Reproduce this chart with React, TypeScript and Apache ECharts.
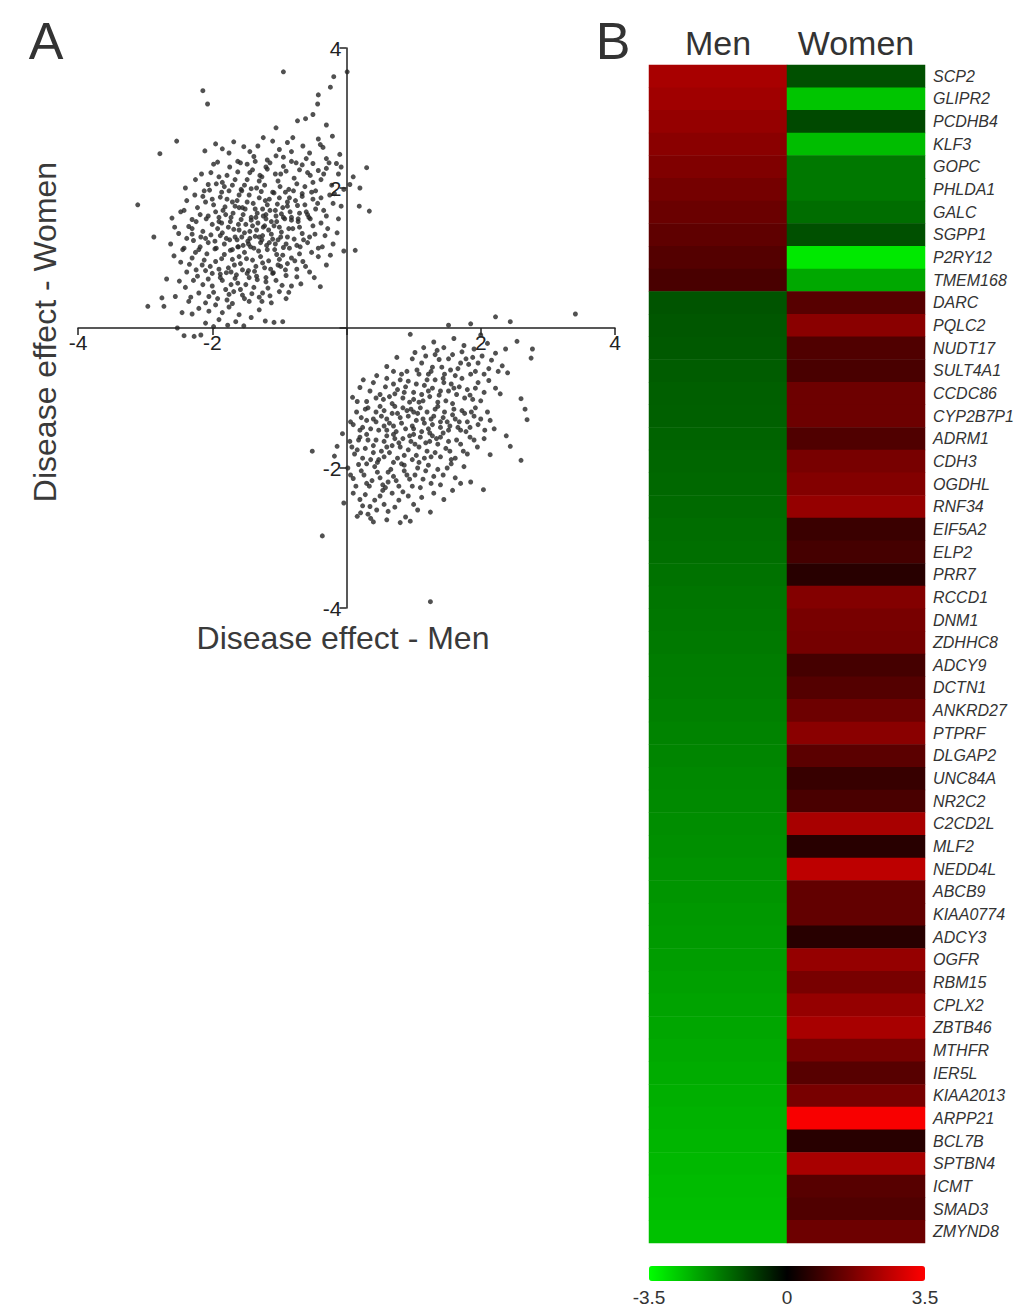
import React, { useEffect, useRef } from 'react';
import * as echarts from 'echarts';

const FONT = 'Liberation Sans, Arial, sans-serif';

const columns = ['Men', 'Women'];

const genes = [
  'SCP2', 'GLIPR2', 'PCDHB4', 'KLF3', 'GOPC', 'PHLDA1', 'GALC', 'SGPP1', 'P2RY12', 'TMEM168',
  'DARC', 'PQLC2', 'NUDT17', 'SULT4A1', 'CCDC86', 'CYP2B7P1', 'ADRM1', 'CDH3', 'OGDHL', 'RNF34',
  'EIF5A2', 'ELP2', 'PRR7', 'RCCD1', 'DNM1', 'ZDHHC8', 'ADCY9', 'DCTN1', 'ANKRD27', 'PTPRF',
  'DLGAP2', 'UNC84A', 'NR2C2', 'C2CD2L', 'MLF2', 'NEDD4L', 'ABCB9', 'KIAA0774', 'ADCY3', 'OGFR',
  'RBM15', 'CPLX2', 'ZBTB46', 'MTHFR', 'IER5L', 'KIAA2013', 'ARPP21', 'BCL7B', 'SPTBN4', 'ICMT',
  'SMAD3', 'ZMYND8',
];

const menValues = [
  2.3, 2.2, 2.05, 1.9, 1.75, 1.6, 1.45, 1.3, 1.15, 1.0,
  -1.15, -1.2, -1.22, -1.26, -1.3, -1.32, -1.36, -1.4, -1.43, -1.46,
  -1.5, -1.52, -1.56, -1.6, -1.63, -1.66, -1.7, -1.72, -1.76, -1.8,
  -1.83, -1.86, -1.9, -1.93, -1.96, -2.0, -2.04, -2.08, -2.12, -2.16,
  -2.2, -2.24, -2.28, -2.32, -2.36, -2.4, -2.44, -2.48, -2.52, -2.56,
  -2.6, -2.65,
];

const womenValues = [
  -1.1, -2.7, -1.0, -2.6, -1.65, -1.65, -1.5, -1.1, -3.2, -2.3,
  1.2, 1.9, 1.1, 1.0, 1.5, 1.5, 1.1, 1.65, 1.8, 2.05,
  0.8, 0.95, 0.55, 1.8, 1.65, 1.6, 0.95, 1.15, 1.5, 1.9,
  1.25, 0.75, 1.0, 2.3, 0.55, 2.6, 1.35, 1.35, 0.55, 2.05,
  1.65, 2.05, 2.3, 1.65, 1.2, 1.65, 3.4, 0.55, 2.3, 1.2,
  1.1, 1.5,
];

const upMenDownWomen = [
  [-2.42, -0.11], [-2.27, -0.12], [-2.17, -0.1], [-2.52, 0.0], [-1.98, 0.02], [-1.77, 0.04], [-1.53, 0.03], [-2.1, 0.07],
  [-1.9, 0.12], [-1.65, 0.09], [-1.21, 0.1], [-1.08, 0.08], [-0.95, 0.09], [-2.96, 0.31], [-2.72, 0.31], [-2.3, 0.2],
  [-2.05, 0.24], [-1.85, 0.22], [-1.6, 0.19], [-1.42, 0.15], [-1.3, 0.26], [-2.2, 0.28], [-1.75, 0.3], [-2.45, 0.22],
  [-2.75, 0.43], [-2.68, 0.7], [-2.49, 0.67], [-2.55, 0.45], [-2.35, 0.38], [-2.2, 0.5], [-2.1, 0.36], [-2.0, 0.6],
  [-1.92, 0.42], [-1.8, 0.55], [-1.7, 0.35], [-1.62, 0.64], [-1.55, 0.47], [-1.45, 0.38], [-1.38, 0.58], [-1.3, 0.44],
  [-1.2, 0.66], [-1.12, 0.36], [-1.0, 0.52], [-0.9, 0.42], [-0.39, 0.59], [-2.4, 0.58], [-2.28, 0.68], [-2.05, 0.45],
  [-1.85, 0.68], [-1.75, 0.48], [-1.5, 0.62], [-1.25, 0.5], [-1.05, 0.68], [-0.82, 0.6], [-1.95, 0.33], [-1.68, 0.52],
  [-2.47, 0.94], [-2.57, 1.03], [-2.38, 0.8], [-2.3, 1.0], [-2.22, 0.74], [-2.15, 0.9], [-2.08, 1.06], [-2.0, 0.78],
  [-1.95, 0.95], [-1.88, 0.72], [-1.82, 1.05], [-1.76, 0.86], [-1.7, 0.98], [-1.64, 0.76], [-1.58, 0.92], [-1.52, 1.08],
  [-1.46, 0.82], [-1.4, 0.97], [-1.34, 0.74], [-1.28, 1.02], [-1.22, 0.86], [-1.16, 0.96], [-1.1, 0.78], [-1.04, 1.05],
  [-0.98, 0.88], [-0.9, 0.75], [-0.82, 1.0], [-0.74, 0.84], [-0.65, 0.95], [-0.55, 0.8], [-0.42, 1.02], [-0.3, 0.9],
  [-2.25, 1.08], [-1.9, 0.84], [-1.6, 1.02], [-1.45, 0.72], [-1.2, 0.72], [-1.0, 0.98], [-0.7, 1.06], [-0.48, 0.72],
  [-2.1, 0.82], [-1.72, 0.8], [-1.35, 0.88], [-0.88, 0.92],
  [-2.87, 1.3], [-2.62, 1.2], [-2.5, 1.35], [-2.42, 1.14], [-2.35, 1.45], [-2.28, 1.25], [-2.2, 1.12], [-2.14, 1.38],
  [-2.06, 1.22], [-2.0, 1.48], [-1.94, 1.14], [-1.88, 1.32], [-1.82, 1.2], [-1.76, 1.44], [-1.7, 1.12], [-1.66, 1.3],
  [-1.6, 1.4], [-1.54, 1.18], [-1.5, 1.48], [-1.44, 1.28], [-1.38, 1.14], [-1.34, 1.4], [-1.28, 1.22], [-1.22, 1.46],
  [-1.18, 1.12], [-1.12, 1.34], [-1.06, 1.2], [-1.0, 1.44], [-0.94, 1.15], [-0.88, 1.3], [-0.8, 1.42], [-0.74, 1.18],
  [-0.66, 1.35], [-0.58, 1.22], [-0.5, 1.46], [-0.42, 1.14], [-0.32, 1.32], [-0.2, 1.2], [-0.04, 1.1], [0.13, 1.11],
  [-2.3, 1.34], [-2.1, 1.28], [-1.92, 1.42], [-1.74, 1.26], [-1.56, 1.3], [-1.4, 1.46], [-1.25, 1.32], [-1.08, 1.46],
  [-0.9, 1.2], [-0.7, 1.44], [-0.55, 1.3], [-1.62, 1.16], [-1.46, 1.2], [-1.3, 1.3], [-1.15, 1.22], [-0.98, 1.3],
  [-3.11, 1.76], [-2.6, 1.57], [-2.47, 1.66], [-2.38, 1.82], [-2.3, 1.55], [-2.22, 1.72], [-2.14, 1.88], [-2.06, 1.6],
  [-1.98, 1.76], [-1.9, 1.52], [-1.84, 1.68], [-1.78, 1.84], [-1.72, 1.58], [-1.66, 1.74], [-1.6, 1.9], [-1.54, 1.62],
  [-1.48, 1.8], [-1.42, 1.54], [-1.36, 1.7], [-1.3, 1.86], [-1.24, 1.6], [-1.18, 1.76], [-1.12, 1.52], [-1.06, 1.68],
  [-1.0, 1.86], [-0.94, 1.58], [-0.88, 1.74], [-0.82, 1.54], [-0.76, 1.82], [-0.7, 1.64], [-0.62, 1.76], [-0.54, 1.56],
  [-0.46, 1.7], [-0.38, 1.86], [-0.3, 1.6], [-0.2, 1.78], [-0.12, 1.56], [0.19, 1.74], [0.34, 1.67], [-2.0, 1.84],
  [-1.8, 1.62], [-1.55, 1.72], [-1.35, 1.58], [-1.15, 1.84], [-0.95, 1.72], [-0.72, 1.52], [-0.5, 1.84], [-1.7, 1.8],
  [-1.25, 1.7], [-1.05, 1.6], [-0.85, 1.86], [-0.6, 1.66],
  [-2.4, 2.0], [-2.25, 2.12], [-2.12, 1.96], [-2.02, 2.22], [-1.94, 2.06], [-1.86, 1.94], [-1.78, 2.18], [-1.7, 2.04],
  [-1.62, 2.23], [-1.56, 1.96], [-1.48, 2.12], [-1.4, 2.26], [-1.34, 2.0], [-1.26, 2.16], [-1.18, 2.27], [-1.1, 1.94],
  [-1.02, 2.1], [-0.94, 2.31], [-0.86, 1.98], [-0.78, 2.14], [-0.7, 2.26], [-0.62, 2.02], [-0.54, 2.18], [-0.46, 1.96],
  [-0.38, 2.12], [-0.3, 2.28], [-0.22, 2.04], [-0.12, 2.2], [-0.04, 1.98], [0.1, 2.16], [0.05, 2.05], [0.2, 2.0],
  [-1.3, 2.1], [-0.98, 2.2], [-0.66, 1.92], [-0.42, 2.25], [-1.85, 2.08], [-0.18, 1.92],
  [-2.53, 2.67], [-2.78, 2.49], [-1.95, 2.63], [-2.11, 2.53], [-1.53, 2.59], [-1.92, 2.37], [-1.62, 2.38], [-1.1, 2.67],
  [-1.32, 2.6], [-0.88, 2.65], [-0.65, 2.6], [-0.42, 2.7], [-0.21, 2.74], [-0.39, 2.62], [-1.38, 2.45], [-1.18, 2.4],
  [-0.94, 2.44], [-0.75, 2.36], [-0.55, 2.5], [-0.3, 2.42], [-0.1, 2.48], [0.3, 2.29], [-1.75, 2.5], [-1.48, 2.34],
  [-0.82, 2.52], [-0.5, 2.35], [-0.15, 2.35], [-1.0, 2.55],
  [-2.14, 3.39], [-2.07, 3.2], [-0.94, 3.66], [-0.19, 3.59], [-0.24, 3.44], [0.01, 3.66], [-0.42, 3.33], [-0.43, 3.2],
  [-0.73, 2.96], [-0.61, 2.99], [-1.05, 2.86], [-0.3, 2.9], [-0.5, 3.05],
  [-2.32, 0.44], [-2.14, 0.62], [-1.98, 0.51], [-1.88, 0.77], [-1.78, 0.4], [-1.66, 0.71], [-1.58, 0.55], [-1.48, 0.78],
  [-1.41, 0.49], [-1.33, 0.69], [-1.26, 0.38], [-1.17, 0.57], [-1.09, 0.79], [-0.96, 0.61], [-0.86, 0.51], [-0.74, 0.73],
  [-2.24, 0.83], [-2.06, 0.7], [-1.72, 0.62], [-1.52, 0.42], [-1.14, 0.46], [-0.68, 0.63],
  [-2.44, 1.12], [-2.34, 0.91], [-2.18, 1.16], [-2.12, 0.97], [-2.03, 0.88], [-1.96, 1.13], [-1.86, 0.99], [-1.79, 0.79],
  [-1.73, 1.11], [-1.67, 0.9], [-1.55, 0.83], [-1.49, 0.99], [-1.43, 1.16], [-1.37, 0.81], [-1.31, 1.1], [-1.25, 0.93],
  [-1.19, 1.18], [-1.13, 0.84], [-1.07, 1.12], [-0.95, 1.04], [-0.91, 0.83], [-0.85, 1.14], [-0.77, 0.96], [-0.69, 1.16],
  [-0.61, 0.88], [-0.52, 1.08], [-0.36, 1.16], [-0.24, 1.04], [-1.61, 1.16], [-1.02, 0.9],
  [-2.56, 1.44], [-2.38, 1.28], [-2.24, 1.52], [-2.17, 1.3], [-2.09, 1.56], [-2.02, 1.33], [-1.96, 1.24], [-1.9, 1.58],
  [-1.85, 1.36], [-1.79, 1.28], [-1.73, 1.52], [-1.68, 1.41], [-1.63, 1.26], [-1.57, 1.55], [-1.52, 1.36], [-1.47, 1.24],
  [-1.42, 1.58], [-1.36, 1.31], [-1.32, 1.5], [-1.26, 1.26], [-1.2, 1.56], [-1.16, 1.4], [-1.1, 1.27], [-1.04, 1.52],
  [-0.97, 1.37], [-0.92, 1.56], [-0.86, 1.42], [-0.78, 1.27], [-0.72, 1.56], [-0.64, 1.26], [-0.56, 1.58], [-0.47, 1.34],
  [-0.38, 1.5], [-0.28, 1.42], [-0.14, 1.36], [-1.86, 1.5], [-1.44, 1.38], [-1.02, 1.26], [-0.82, 1.58], [-1.61, 1.48],
  [-1.24, 1.44], [-2.3, 1.42],
  [-2.42, 1.68], [-2.26, 1.9], [-2.18, 1.62], [-2.1, 1.8], [-2.04, 1.97], [-1.95, 1.66], [-1.88, 1.87], [-1.81, 1.73],
  [-1.75, 1.96], [-1.69, 1.64], [-1.63, 1.82], [-1.57, 1.98], [-1.51, 1.7], [-1.45, 1.9], [-1.39, 1.78], [-1.33, 1.64],
  [-1.27, 1.95], [-1.21, 1.82], [-1.14, 1.68], [-1.08, 1.93], [-1.03, 1.77], [-0.97, 1.63], [-0.91, 1.94], [-0.84, 1.66],
  [-0.79, 1.96], [-0.73, 1.75], [-0.66, 1.88], [-0.58, 1.62], [-0.52, 1.94], [-0.43, 1.78], [-0.34, 1.68], [-0.25, 1.9],
  [-0.08, 1.74], [-1.6, 1.72], [-1.2, 1.62], [-0.88, 1.8], [-1.42, 1.99],
  [-2.16, 2.2], [-2.06, 2.05], [-1.98, 2.34], [-1.9, 2.16], [-1.82, 2.02], [-1.74, 2.3], [-1.66, 2.12], [-1.58, 2.36],
  [-1.52, 2.04], [-1.44, 2.22], [-1.36, 2.38], [-1.29, 2.18], [-1.22, 2.04], [-1.14, 2.36], [-1.06, 2.2], [-0.99, 2.02],
  [-0.9, 2.24], [-0.82, 2.38], [-0.74, 2.06], [-0.66, 2.33], [-0.58, 2.22], [-0.5, 2.08], [-0.34, 2.2], [-0.26, 2.36],
  [-0.08, 2.3], [-1.2, 2.3],
  [-1.85, 2.56], [-1.68, 2.66], [-1.44, 2.52], [-1.24, 2.72], [-1.05, 2.46], [-0.8, 2.72], [-0.6, 2.42], [-0.35, 2.58],
];

const downMenUpWomen = [
  [0.95, -0.09], [2.22, 0.16], [2.44, 0.09], [3.41, 0.2], [1.85, 0.06], [1.52, 0.04], [2.54, -0.19], [2.37, -0.3],
  [1.3, -0.2], [1.6, -0.15], [1.75, -0.25], [2.0, -0.1], [2.1, -0.22], [1.45, -0.28], [1.15, -0.28], [1.9, -0.3],
  [2.77, -0.3], [2.75, -0.43], [2.4, -0.64], [2.32, -0.54], [0.6, -0.55], [0.75, -0.42], [0.9, -0.62], [1.02, -0.35],
  [1.12, -0.5], [1.22, -0.66], [1.32, -0.38], [1.42, -0.56], [1.52, -0.44], [1.62, -0.68], [1.72, -0.34], [1.82, -0.52],
  [1.92, -0.62], [2.02, -0.4], [2.12, -0.58], [2.22, -0.36], [0.45, -0.68], [1.05, -0.6], [1.55, -0.6], [1.88, -0.42],
  [1.28, -0.56], [0.82, -0.66], [2.05, -0.66], [1.7, -0.5], [1.38, -0.45],
  [2.29, -0.94], [2.22, -0.86], [0.09, -0.99], [0.2, -0.85], [0.3, -1.05], [0.4, -0.78], [0.5, -0.95], [0.6, -0.72],
  [0.68, -1.08], [0.76, -0.88], [0.84, -1.0], [0.92, -0.76], [1.0, -0.92], [1.08, -1.06], [1.16, -0.82], [1.24, -0.98],
  [1.32, -0.74], [1.4, -0.9], [1.48, -1.04], [1.56, -0.8], [1.64, -0.95], [1.72, -0.72], [1.8, -0.88], [1.88, -1.02],
  [1.96, -0.78], [2.05, -0.92], [2.12, -0.75], [0.35, -0.9], [0.55, -1.02], [0.88, -0.84], [1.12, -0.95], [1.36, -1.06],
  [1.6, -0.86], [1.84, -0.96], [0.7, -0.8], [1.2, -0.74], [1.45, -0.78], [1.0, -1.02], [0.25, -0.74], [2.6, -1.01],
  [2.66, -1.16], [2.69, -1.31], [0.06, -1.34],
  [0.15, -1.2], [0.24, -1.42], [0.32, -1.14], [0.4, -1.3], [0.48, -1.46], [0.56, -1.18], [0.64, -1.36], [0.72, -1.12],
  [0.8, -1.28], [0.88, -1.44], [0.96, -1.16], [1.04, -1.32], [1.12, -1.48], [1.2, -1.2], [1.28, -1.38], [1.36, -1.12],
  [1.44, -1.28], [1.52, -1.46], [1.6, -1.16], [1.68, -1.34], [1.76, -1.22], [1.84, -1.42], [1.92, -1.14], [2.0, -1.3],
  [2.1, -1.2], [2.2, -1.44], [0.3, -1.32], [0.52, -1.26], [0.7, -1.4], [0.92, -1.26], [1.1, -1.14], [1.3, -1.26],
  [1.5, -1.34], [1.7, -1.46], [1.9, -1.26], [0.2, -1.46], [0.6, -1.46], [1.0, -1.44], [1.4, -1.42], [0.84, -1.14],
  [1.24, -1.5], [1.58, -1.24], [0.44, -1.2], [0.76, -1.22], [1.16, -1.36], [1.8, -1.34],
  [2.38, -1.54], [2.44, -1.69], [2.14, -1.81], [2.6, -1.89], [-0.51, -1.76], [-0.14, -1.69], [-0.18, -1.83], [-0.06, -1.51],
  [0.05, -1.62], [0.12, -1.8], [0.2, -1.56], [0.28, -1.72], [0.36, -1.88], [0.44, -1.6], [0.52, -1.76], [0.6, -1.54],
  [0.68, -1.68], [0.76, -1.86], [0.84, -1.58], [0.92, -1.74], [1.0, -1.52], [1.08, -1.7], [1.16, -1.86], [1.24, -1.62],
  [1.32, -1.78], [1.4, -1.56], [1.48, -1.72], [1.56, -1.88], [1.64, -1.6], [1.74, -1.76], [1.84, -1.56], [1.95, -1.7],
  [2.05, -1.58], [0.32, -1.6], [0.56, -1.84], [0.8, -1.7], [1.04, -1.82], [1.28, -1.54], [1.52, -1.62], [0.16, -1.74],
  [0.72, -1.58], [1.2, -1.76], [0.4, -1.78], [0.96, -1.62], [1.4, -1.84],
  [2.04, -2.31], [0.02, -2.0], [0.1, -2.15], [0.18, -1.95], [0.26, -2.1], [0.34, -2.26], [0.42, -1.98], [0.5, -2.14],
  [0.58, -2.28], [0.66, -2.02], [0.74, -2.18], [0.82, -1.94], [0.9, -2.1], [0.98, -2.26], [1.06, -2.0], [1.14, -2.16],
  [1.22, -1.96], [1.3, -2.12], [1.4, -2.24], [1.5, -2.0], [1.62, -2.14], [1.75, -1.98], [1.85, -2.2], [0.3, -1.94],
  [0.62, -2.2], [0.86, -2.04], [1.1, -2.28], [1.36, -2.02], [0.46, -2.06], [0.7, -1.92],
  [0.16, -2.69], [0.21, -2.64], [0.4, -2.77], [0.36, -2.72], [0.95, -2.76], [1.25, -2.63], [-0.36, -2.97], [1.25, -3.91],
  [0.2, -2.45], [0.35, -2.55], [0.5, -2.4], [0.62, -2.62], [0.78, -2.46], [0.88, -2.7], [1.0, -2.52], [1.12, -2.42],
  [0.6, -2.74], [0.8, -2.78], [1.45, -2.45], [0.1, -2.36], [0.28, -2.38], [0.68, -2.36], [1.3, -2.36], [1.58, -2.32],
  [0.45, -2.6], [-0.04, -2.5],
  [0.98, -0.44], [1.08, -0.66], [1.18, -0.4], [1.26, -0.62], [1.46, -0.66], [1.58, -0.38], [1.66, -0.58], [1.78, -0.44],
  [1.96, -0.5], [2.16, -0.46], [0.7, -0.62], [1.35, -0.32], [2.26, -0.62], [1.85, -0.66],
  [0.44, -1.0], [0.58, -0.84], [0.64, -0.98], [0.8, -0.74], [0.94, -1.06], [1.04, -0.8], [1.14, -1.04], [1.28, -0.86],
  [1.38, -0.96], [1.52, -0.9], [1.58, -1.08], [1.68, -0.84], [1.76, -1.0], [1.92, -0.86], [2.0, -1.04], [0.16, -1.05],
  [0.72, -0.94], [1.22, -0.9], [1.44, -0.72], [0.86, -0.92],
  [0.1, -1.38], [0.22, -1.28], [0.36, -1.44], [0.44, -1.34], [0.5, -1.12], [0.6, -1.3], [0.68, -1.22], [0.74, -1.48],
  [0.82, -1.36], [0.9, -1.18], [0.98, -1.4], [1.06, -1.22], [1.14, -1.3], [1.22, -1.44], [1.32, -1.16], [1.4, -1.34],
  [1.46, -1.2], [1.54, -1.4], [1.62, -1.3], [1.72, -1.18], [1.78, -1.48], [1.86, -1.2], [1.96, -1.38], [2.06, -1.46],
  [2.14, -1.32], [0.28, -1.16], [0.56, -1.4], [1.0, -1.2], [1.26, -1.3], [1.66, -1.42],
  [0.08, -1.7], [0.24, -1.86], [0.3, -1.52], [0.4, -1.68], [0.48, -1.88], [0.56, -1.62], [0.64, -1.78], [0.7, -1.52],
  [0.78, -1.64], [0.86, -1.82], [0.94, -1.54], [1.02, -1.66], [1.1, -1.56], [1.18, -1.64], [1.26, -1.84], [1.36, -1.66],
  [1.44, -1.5], [1.54, -1.76], [1.62, -1.86], [1.7, -1.66], [1.8, -1.8], [1.9, -1.6], [0.18, -1.6], [0.6, -1.7],
  [0.98, -1.88], [1.34, -1.58],
  [0.06, -2.1], [0.14, -2.26], [0.22, -2.04], [0.38, -2.18], [0.46, -1.92], [0.54, -2.24], [0.62, -2.06], [0.78, -2.26],
  [0.86, -1.96], [0.94, -2.16], [1.02, -2.1], [1.18, -2.04], [1.26, -2.22], [1.44, -2.1], [1.56, -1.94], [1.7, -2.22],
  [0.3, -2.22], [0.7, -2.12], [1.08, -1.92],
  [0.24, -2.54], [0.42, -2.46], [0.56, -2.52], [0.72, -2.56], [0.92, -2.4], [1.06, -2.6], [0.32, -2.66], [0.54, -2.32],
  [0.84, -2.34],
];

const scatterTicks = { min: -4, max: 4, interval: 2 };
const scaleRange = { min: -3.5, max: 3.5, interval: 3.5 };
const scaleColors = ['#00ff00', '#000000', '#ff0000'];

export default function App() {
  const ref = useRef<HTMLDivElement>(null);

  useEffect(() => {
    document.body.style.margin = '0';
    const chart = echarts.init(ref.current as HTMLDivElement, null, { renderer: 'svg' });

    const heat: number[][] = [];
    genes.forEach((_, i) => {
      heat.push([0, i, menValues[i]]);
      heat.push([1, i, womenValues[i]]);
    });

    const axisColor = '#222';
    const hideZero = (v: number) => (v === 0 ? '' : String(v));
    const scatterW = 537;
    const scatterH = 560;

    chart.setOption({
      animation: false,
      backgroundColor: '#ffffff',
      textStyle: { fontFamily: FONT },
      grid: [
        { left: 78, top: 48, width: scatterW, height: scatterH },
        { left: 649, top: 65, width: 276, height: 1178 },
        { left: 649, top: 1266, width: 276, height: 15 },
      ],
      xAxis: [
        {
          gridIndex: 0, type: 'value', ...scatterTicks,
          position: 'bottom', offset: -scatterH / 2,
          axisLine: { onZero: false, lineStyle: { color: axisColor, width: 1.5 } },
          axisTick: { length: 7, lineStyle: { color: axisColor, width: 1.5 } },
          axisLabel: { fontSize: 21, color: axisColor, margin: 4, fontFamily: FONT, formatter: hideZero },
          splitLine: { show: false },
        },
        {
          gridIndex: 1, type: 'category', data: columns, position: 'top',
          axisLine: { show: false }, axisTick: { show: false },
          axisLabel: { interval: 0, fontSize: 34, color: '#333', margin: 5, fontFamily: FONT },
        },
        {
          gridIndex: 2, type: 'value', ...scaleRange,
          axisLine: { show: false }, axisTick: { show: false }, splitLine: { show: false },
          axisLabel: { fontSize: 19, color: '#333', margin: 7, fontFamily: FONT },
        },
      ],
      yAxis: [
        {
          gridIndex: 0, type: 'value', ...scatterTicks,
          position: 'left', offset: -scatterW / 2,
          axisLine: { onZero: false, lineStyle: { color: axisColor, width: 1.5 } },
          axisTick: { length: 7, lineStyle: { color: axisColor, width: 1.5 } },
          axisLabel: { fontSize: 21, color: axisColor, margin: 5, fontFamily: FONT, formatter: hideZero },
          splitLine: { show: false },
        },
        {
          gridIndex: 1, type: 'category', data: genes, inverse: true, position: 'right',
          axisLine: { show: false }, axisTick: { show: false },
          axisLabel: { interval: 0, fontSize: 16, fontStyle: 'italic', color: '#333', margin: 8, fontFamily: FONT },
        },
        { gridIndex: 2, type: 'value', show: false },
      ],
      visualMap: {
        type: 'continuous',
        seriesIndex: 2,
        min: scaleRange.min,
        max: scaleRange.max,
        orient: 'horizontal',
        left: 649,
        top: 1266,
        padding: 0,
        itemWidth: 15,
        itemHeight: 276,
        calculable: false,
        hoverLink: false,
        inRange: { color: scaleColors },
      },
      series: [
        {
          type: 'scatter', xAxisIndex: 0, yAxisIndex: 0, data: upMenDownWomen,
          symbolSize: 5, itemStyle: { color: '#262626' }, silent: true,
        },
        {
          type: 'scatter', xAxisIndex: 0, yAxisIndex: 0, data: downMenUpWomen,
          symbolSize: 5, itemStyle: { color: '#262626' }, silent: true,
        },
        {
          type: 'heatmap', xAxisIndex: 1, yAxisIndex: 1, data: heat,
          itemStyle: { borderWidth: 0 }, emphasis: { disabled: true }, silent: true,
        },
      ],
      graphic: [
        { type: 'text', x: 46, y: 41, style: { text: 'A', fontSize: 52, fill: '#333', fontFamily: FONT, textAlign: 'center', textVerticalAlign: 'middle' } },
        { type: 'text', x: 613, y: 41, style: { text: 'B', fontSize: 52, fill: '#333', fontFamily: FONT, textAlign: 'center', textVerticalAlign: 'middle' } },
        { type: 'text', x: 343, y: 638, style: { text: 'Disease effect - Men', fontSize: 32, fill: '#3a3a3a', fontFamily: FONT, textAlign: 'center', textVerticalAlign: 'middle' } },
        { type: 'text', x: 45, y: 332, rotation: Math.PI / 2, style: { text: 'Disease effect - Women', fontSize: 32, fill: '#3a3a3a', fontFamily: FONT, textAlign: 'center', textVerticalAlign: 'middle' } },
      ],
    });

    return () => chart.dispose();
  }, []);

  return <div ref={ref} style={{ width: 1028, height: 1310 }} />;
}
